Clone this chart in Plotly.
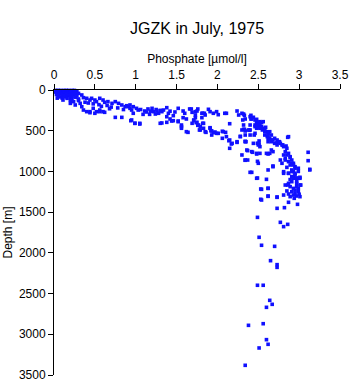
import plotly.graph_objects as go

TITLE = "JGZK in July, 1975"
X_LABEL = "Phosphate [µmol/l]"
Y_LABEL = "Depth [m]"
X_TICKS = [0, 0.5, 1, 1.5, 2, 2.5, 3, 3.5]
Y_TICKS = [0, 500, 1000, 1500, 2000, 2500, 3000, 3500]

# (phosphate, depth) pairs
shallow = [
    (0.02,5),(0.05,5),(0.08,5),(0.12,5),(0.15,5),(0.18,5),(0.22,5),(0.25,5),
    (0.03,15),(0.06,15),(0.1,15),(0.14,15),(0.19,15),(0.23,15),(0.28,12),
    (0.02,25),(0.07,25),(0.11,25),(0.16,25),(0.2,25),(0.25,25),
    (0.04,40),(0.08,40),(0.13,40),(0.17,40),(0.22,40),(0.27,40),(0.3,41),
    (0.03,55),(0.06,55),(0.1,55),(0.15,55),(0.2,55),(0.24,60),(0.34,61),
    (0.05,70),(0.12,70),(0.18,70),(0.22,75),(0.28,72),
    (0.08,85),(0.14,85),(0.2,90),(0.26,88),(0.36,94),
    (0.04,100),(0.1,100),(0.16,102),(0.22,105),(0.3,110),(0.4,102),
    (0.11,123),(0.2,125),(0.24,143),(0.3,130),(0.44,123),(0.46,102),(0.5,123),
    (0.52,143),(0.56,102),(0.6,123),(0.62,151),(0.66,143),(0.71,164),(0.75,143),
    (0.79,164),(0.83,184),(0.87,205),(0.91,205),(0.93,225),
    (0.2,164),(0.26,184),(0.32,164),(0.34,205),(0.36,246),(0.4,266),(0.44,266),
    (0.48,225),(0.52,266),(0.56,246),(0.6,266),(0.75,336),(0.83,336),
    (0.38,150),(0.42,160),(0.48,170),(0.55,180),(0.58,200),(0.65,190),(0.7,210),
    (0.78,220),(0.85,240),(0.68,230),
    (0.44,279),(0.50,286),(0.56,266),(0.62,274),(0.95,368),(0.99,409),(1.05,409),
]
band = [
    (0.89,193),(0.93,184),(0.97,205),(1.01,225),(1.03,246),(0.95,246),(0.97,286),
    (0.94,377),(0.99,409),(1.05,418),
    (1.11,258),(1.15,233),(1.20,225),(1.22,266),(1.26,258),(1.28,286),(1.32,266),
    (1.34,246),(1.38,217),(1.40,286),
    (1.09,299),(1.17,299),(1.24,295),(1.38,328),(1.42,356),(1.46,315),(1.52,381),
    (1.32,405),(1.38,397),(1.44,381),
    (1.52,225),(1.58,258),(1.60,286),(1.66,233),(1.69,274),(1.73,266),(1.76,233),
    (1.81,286),(1.58,340),(1.62,356),(1.71,368),(1.73,340),(1.75,397),(1.77,430),
    (1.79,450),(1.83,409),(1.56,430),(1.56,470),(1.64,520),(1.79,491),(1.85,512),
    (1.30,409),(1.46,377),(1.52,389),(1.56,450),(1.62,512),(1.69,409),
    (1.06,240),(1.13,270),(1.25,240),(1.18,260),(1.30,250),(1.42,260),(1.48,270),
]
mid = [
    (1.68,233),(1.73,307),(1.75,258),(1.82,286),(1.84,286),(1.89,237),(1.91,266),
    (1.99,266),(1.95,286),(2.01,303),(2.09,286),(2.11,286),(2.24,258),(2.26,307),
    (2.30,286),(2.33,311),
    (1.71,377),(1.74,401),(1.76,434),(1.82,409),(1.83,470),(1.78,491),(1.91,463),
    (1.92,500),(1.95,524),(1.97,516),(1.99,532),(1.86,520),(1.93,553),(2.06,507),
    (2.10,520),(2.06,593),(2.15,414),(2.14,623),(2.17,663),(2.15,716),(2.24,643),
    (2.34,630),(2.28,569),
    (1.81,340),(1.85,307),(1.91,470),(1.93,503),(2.01,532),(2.07,512),(2.11,573),
    (2.15,614),(2.18,655),(2.24,635),(2.35,635),(2.32,295),(2.34,356),(2.31,368),
    (2.32,483),(2.34,503),(2.38,491),
]
bend = [
    (2.41,311),(2.41,356),(2.44,335),(2.48,360),(2.52,389),(2.40,430),(2.46,430),
    (2.50,409),(2.54,401),(2.48,470),(2.52,458),(2.55,491),(2.59,458),(2.60,512),
    (2.64,512),(2.62,532),(2.33,483),(2.39,495),(2.45,553),(2.51,626),(2.51,667),
    (2.49,655),
    (2.40,328),(2.42,356),(2.46,368),(2.48,409),(2.50,450),(2.54,450),(2.56,470),
    (2.58,512),(2.52,409),
    (2.48,389),(2.50,430),(2.56,389),(2.46,450),(2.52,470),(2.58,491),(2.58,553),
    (2.66,553),(2.62,593),(2.68,614),(2.66,635),(2.73,614),(2.70,655),(2.73,675),
    (2.75,635),(2.77,655),(2.79,675),(2.81,696),(2.85,716),(2.83,757),(2.81,798),
    (2.85,798),(2.87,778),(2.89,819),(2.83,839),(2.87,880),(2.91,860),(2.89,921),
    (2.93,900),(2.95,942),(2.91,982),(2.95,1023),(2.93,1064),(2.97,1084),(2.87,1023),
    (2.81,1003),(2.79,900),(2.77,860),(2.68,757),(2.64,778),(2.66,737),(2.50,655),
    (2.52,696),(2.48,778),(2.34,635),(2.36,737),(2.30,798),(2.34,860),(2.42,757),
    (2.46,532),(2.40,491),(2.34,553),(2.30,491),(2.32,430),(2.87,573),(3.11,765),
    (3.13,974),(3.11,868),(2.99,961),(2.68,942),(2.62,982),(2.42,1011),(2.48,1084),
    (2.60,1097),
    (2.61,573),(2.62,553),(2.66,614),(2.70,593),(2.73,647),(2.76,635),(2.80,675),
    (2.84,688),(2.86,581),
    (2.37,745),(2.43,765),(2.48,786),(2.49,876),(2.37,860),(2.34,863),
    (2.62,786),(2.68,933),(2.62,1208),(2.73,1314),(2.53,1216),(2.62,1306),
    (2.53,1342),(2.40,1011),(2.49,1081),
    (2.99,1084),(3.01,1084),(3.02,1167),(2.99,1208),(2.83,860),(2.89,831),
    (2.91,900),(2.93,921),
    (2.44,655),(2.50,675),(2.52,778),(2.50,900),(2.60,778),(2.62,635),(2.64,593),
    (2.40,553),(2.28,573),
]
deep = [
    (2.81,1023),(2.87,1023),(2.93,1003),(2.91,1064),(2.95,1044),(2.93,1084),
    (2.97,1084),(3.01,1072),(2.91,1126),(2.87,1146),(2.97,1146),(3.01,1167),
    (2.83,1167),(2.89,1187),(2.93,1208),(2.97,1187),(2.91,1249),(2.95,1269),
    (2.99,1249),(2.93,1290),(2.97,1302),(3.01,1310),(2.89,1310),(2.87,1277),
    (3.13,982),(2.54,1220),(2.54,1351),(2.73,1318),(2.81,1290),(2.87,1379),
    (2.98,1404),(2.82,1445),(2.73,1453),
    (2.95,960),(2.99,1000),(2.91,1000),(2.85,950),(2.97,1120),(2.89,1100),
    (2.95,1230),(2.85,1240),(3.0,1280),(2.94,1330),
    (2.62,1207),(2.62,1302),(2.86,1167),
    (2.49,1564),(2.77,1625),(2.81,1678),(2.86,1650),(2.51,1809),(2.54,1907),
    (2.70,1920),(2.65,2096),(2.73,2145),(2.73,2178),(2.49,2398),(2.56,2398),
    (2.64,2583),(2.67,2632),(2.60,2669),(2.38,2890),(2.56,2870),(2.60,3066),
    (2.62,3123),(2.51,3168),(2.34,3381),
]

samples = shallow + band + mid + bend + deep
PHOSPHATE = [p for p, d in samples]
DEPTH = [d for p, d in samples]

FONT = "Liberation Sans, Arial, Helvetica, sans-serif"

fig = go.Figure(go.Scatter(
    x=PHOSPHATE, y=DEPTH, mode="markers",
    marker=dict(symbol="square", size=3.6, color="#1010ff", line=dict(width=0)),
    cliponaxis=False, hoverinfo="x+y",
))

fig.update_layout(
    width=350, height=384,
    margin=dict(l=54, r=10, t=90, b=9, autoexpand=False),
    paper_bgcolor="white", plot_bgcolor="white",
    font=dict(family=FONT, size=12, color="black"),
    showlegend=False,
    title=dict(text=TITLE, x=0.563, xanchor="center", y=0.927, yanchor="middle",
               font=dict(family=FONT, size=16, color="black")),
)
fig.update_xaxes(
    side="top", range=[0, 3.5], tickvals=X_TICKS,
    ticktext=[f"{v:g}" for v in X_TICKS],
    ticks="outside", ticklen=5, tickcolor="black", tickwidth=1,
    showline=True, linecolor="black", linewidth=1,
    showgrid=False, zeroline=False, automargin=False,
    title=dict(text=X_LABEL, standoff=2, font=dict(size=12)),
)
fig.update_yaxes(
    range=[3500, 0], tickvals=Y_TICKS,
    ticktext=[str(v) for v in Y_TICKS],
    ticks="outside", ticklen=5, tickcolor="black", tickwidth=1,
    showline=True, linecolor="black", linewidth=1,
    showgrid=False, zeroline=False, automargin=False,
    title=dict(text=Y_LABEL, standoff=3, font=dict(size=12)),
)

fig.write_html("out.html")
